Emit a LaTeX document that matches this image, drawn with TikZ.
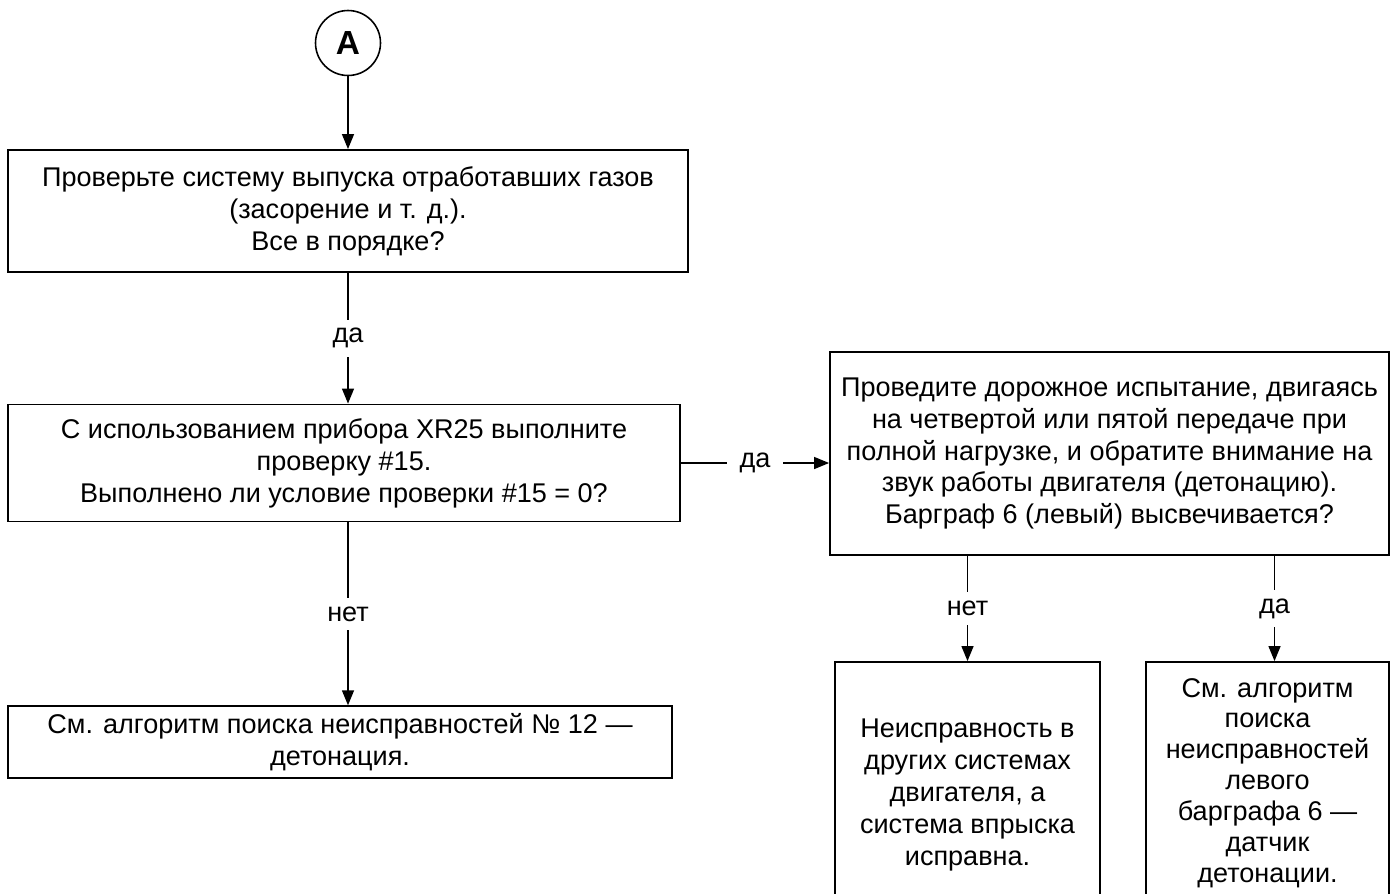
\documentclass[tikz,border=0pt]{standalone}
\usepackage{fontspec}
\setmainfont{Liberation Sans}
\usepackage{tikz}
\usetikzlibrary{arrows.meta,positioning,calc}

\begin{document}
\begin{tikzpicture}[
  x=0.02cm, y=-0.02cm,
  font=\fontsize{15.4}{18.2}\selectfont,
  box/.style={draw, line width=1.1pt, align=center, inner sep=4pt},
  term/.style={draw, circle, line width=0.9pt, minimum size=1.3cm,
               font=\fontsize{19}{20}\selectfont\bfseries},
  lbl/.style={fill=white, inner xsep=7pt, inner ysep=5pt},
  arr/.style={-{Triangle[length=0.3cm,width=0.24cm]}, line width=0.8pt},
  line/.style={line width=0.8pt}
]
\useasboundingbox (0,0) rectangle (1391,893);

\node[term] (A) at (348,43) {A};
\node[box, minimum width=13.6cm, minimum height=2.44cm] (exhaust) at (348,211)
  {Проверьте систему выпуска отработавших газов\\(засорение и т. д.).\\Все в порядке?};
\node[box, minimum width=13.44cm, minimum height=2.34cm] (xr25) at (344,463)
  {С использованием прибора XR25 выполните\\проверку \#15.\\Выполнено ли условие проверки \#15 = 0?};
\node[box, minimum width=13.28cm, minimum height=1.36cm] (algo12) at (340,742)
  {См. алгоритм поиска неисправностей № 12 —\\детонация.};
\node[box, minimum width=11.18cm, minimum height=4.06cm] (road) at (1109.5,453.5)
  {Проведите дорожное испытание, двигаясь\\на четвертой или пятой передаче при\\полной нагрузке, и обратите внимание на\\звук работы двигателя (детонацию).\\Барграф 6 (левый) высвечивается?};
\node[box, minimum width=5.3cm, minimum height=5.32cm] (other) at (967.5,795)
  {Неисправность в\\других системах\\двигателя, а\\система впрыска\\исправна.};
\node[box, minimum width=4.86cm, minimum height=4.84cm,
      font=\fontsize{15.4}{17.6}\selectfont] (knock) at (1267.5,783)
  {См. алгоритм\\поиска\\неисправностей\\левого\\барграфа 6 —\\датчик\\детонации.};

\draw[arr] (A) -- (exhaust.north -| A);
\draw[arr] (exhaust.south -| A) -- node[lbl]{да} (xr25.north -| A);
\draw[arr] (xr25.south -| A) -- node[lbl]{нет} (algo12.north -| A);
\draw[arr] (xr25.east) -- node[lbl]{да} (xr25.east -| road.west);
\draw[arr] (road.south -| other) -- node[lbl]{нет} (other.north);
\draw[arr] ($(road.south -| knock)+(7,0)$) -- node[lbl]{да} ($(knock.north)+(7,0)$);
\end{tikzpicture}
\end{document}
